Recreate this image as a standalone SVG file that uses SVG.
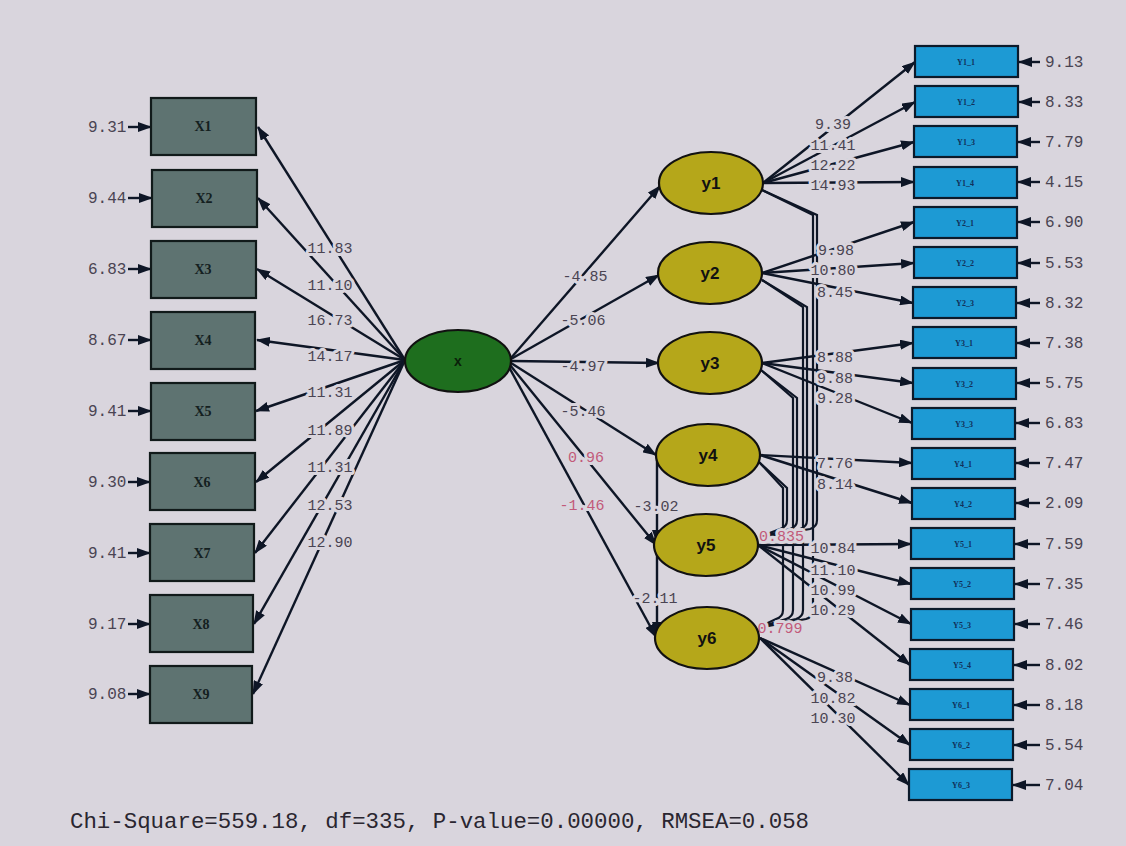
<svg xmlns="http://www.w3.org/2000/svg" width="1126" height="846" viewBox="0 0 1126 846">
<defs>
<marker id="ah" markerUnits="userSpaceOnUse" markerWidth="14" markerHeight="10" refX="13" refY="5" orient="auto">
<path d="M0,0 L14,5 L0,10 z" fill="#0e1626"/>
</marker>
<style>
.ln{stroke:#0e1626;stroke-width:2.4;fill:none}
.ar{stroke:#0e1626;stroke-width:2.4;fill:none;marker-end:url(#ah)}
.cv{stroke:#0e1626;stroke-width:2.2;fill:none}
.lab{font-family:"Liberation Mono",monospace;font-size:15px;fill:#4a4452;text-anchor:middle;paint-order:stroke;stroke:#d9d5dd;stroke-width:6px;stroke-linejoin:round}
.pk{fill:#c25a7a}
.err{font-family:"Liberation Mono",monospace;font-size:16px;fill:#4a4452}
.xb{fill:#5e7371;stroke:#111a1a;stroke-width:2.2}
.xt{font-family:"Liberation Serif",serif;font-weight:bold;font-size:14px;fill:#14201f;text-anchor:middle}
.yb{fill:#1d9ad4;stroke:#0c1a2a;stroke-width:2.2}
.yt{font-family:"Liberation Serif",serif;font-weight:bold;font-size:8px;fill:#12305a;text-anchor:middle}
.ye{fill:#b5a71a;stroke:#111;stroke-width:2.2}
.yl{font-family:"Liberation Sans",sans-serif;font-weight:bold;font-size:17px;fill:#111;text-anchor:middle}
</style>
</defs>
<rect x="0" y="0" width="1126" height="846" fill="#d9d5dd"/>

<g id="connectors">
<line class="ar" x1="405" y1="360" x2="258" y2="127"/>
<line class="ar" x1="405" y1="360" x2="258" y2="198"/>
<line class="ar" x1="405" y1="360" x2="257" y2="269"/>
<line class="ar" x1="405" y1="360" x2="257" y2="340"/>
<line class="ar" x1="405" y1="360" x2="256" y2="411"/>
<line class="ar" x1="405" y1="360" x2="256" y2="482"/>
<line class="ar" x1="405" y1="360" x2="255" y2="553"/>
<line class="ar" x1="405" y1="360" x2="254" y2="624"/>
<line class="ar" x1="405" y1="360" x2="253" y2="694"/>
<line class="ar" x1="128" y1="127" x2="151" y2="127"/>
<line class="ar" x1="128" y1="198" x2="152" y2="198"/>
<line class="ar" x1="128" y1="269" x2="151" y2="269"/>
<line class="ar" x1="128" y1="340" x2="151" y2="340"/>
<line class="ar" x1="128" y1="411" x2="151" y2="411"/>
<line class="ar" x1="128" y1="482" x2="150" y2="482"/>
<line class="ar" x1="128" y1="553" x2="150" y2="553"/>
<line class="ar" x1="128" y1="624" x2="150" y2="624"/>
<line class="ar" x1="128" y1="694" x2="150" y2="694"/>
<line class="ar" x1="511" y1="358" x2="660" y2="186"/>
<line class="ar" x1="511" y1="359" x2="659" y2="275"/>
<line class="ar" x1="512" y1="361" x2="659" y2="363"/>
<line class="ar" x1="511" y1="363" x2="656" y2="455"/>
<line class="ar" x1="510" y1="365" x2="656" y2="545"/>
<line class="ar" x1="509" y1="367" x2="656" y2="637"/>
<line class="ar" x1="657" y1="458" x2="657" y2="543"/>
<line class="ar" x1="657" y1="549" x2="657" y2="635"/>
<path class="cv" d="M762,190 L817,215 L817,520 Q817,527 810,529 L757,538"/>
<path class="cv" d="M762,190 L813,215 L813,610 Q813,617 806,619 L757,628"/>
<path class="cv" d="M762,280 L807,307 L807,520 Q807,527 800,529 L757,538"/>
<path class="cv" d="M762,280 L803,307 L803,610 Q803,617 796,619 L757,628"/>
<path class="cv" d="M761,370 L797,398 L797,520 Q797,527 790,529 L757,538"/>
<path class="cv" d="M761,370 L793,398 L793,610 Q793,617 786,619 L757,628"/>
<path class="cv" d="M759,462 L787,488 L787,520 Q787,527 780,529 L757,538"/>
<path class="cv" d="M759,462 L783,488 L783,610 Q783,617 776,619 L757,628"/>
<line class="ar" x1="763" y1="183" x2="915" y2="62"/>
<line class="ar" x1="763" y1="183" x2="915" y2="102"/>
<line class="ar" x1="763" y1="183" x2="914" y2="142"/>
<line class="ar" x1="763" y1="183" x2="914" y2="182"/>
<line class="ar" x1="762" y1="273" x2="914" y2="222"/>
<line class="ar" x1="762" y1="273" x2="914" y2="263"/>
<line class="ar" x1="762" y1="273" x2="913" y2="303"/>
<line class="ar" x1="762" y1="363" x2="913" y2="343"/>
<line class="ar" x1="762" y1="363" x2="913" y2="383"/>
<line class="ar" x1="762" y1="363" x2="912" y2="423"/>
<line class="ar" x1="760" y1="455" x2="912" y2="463"/>
<line class="ar" x1="760" y1="455" x2="912" y2="503"/>
<line class="ar" x1="758" y1="545" x2="911" y2="544"/>
<line class="ar" x1="758" y1="545" x2="911" y2="584"/>
<line class="ar" x1="758" y1="545" x2="911" y2="624"/>
<line class="ar" x1="758" y1="545" x2="910" y2="665"/>
<line class="ar" x1="760" y1="638" x2="910" y2="705"/>
<line class="ar" x1="760" y1="638" x2="910" y2="745"/>
<line class="ar" x1="760" y1="638" x2="909" y2="785"/>
<line class="ar" x1="1040" y1="62" x2="1019" y2="62"/>
<line class="ar" x1="1040" y1="102" x2="1019" y2="102"/>
<line class="ar" x1="1040" y1="142" x2="1018" y2="142"/>
<line class="ar" x1="1040" y1="182" x2="1018" y2="182"/>
<line class="ar" x1="1040" y1="222" x2="1018" y2="222"/>
<line class="ar" x1="1040" y1="263" x2="1018" y2="263"/>
<line class="ar" x1="1040" y1="303" x2="1017" y2="303"/>
<line class="ar" x1="1040" y1="343" x2="1017" y2="343"/>
<line class="ar" x1="1040" y1="383" x2="1017" y2="383"/>
<line class="ar" x1="1040" y1="423" x2="1016" y2="423"/>
<line class="ar" x1="1040" y1="463" x2="1016" y2="463"/>
<line class="ar" x1="1040" y1="503" x2="1016" y2="503"/>
<line class="ar" x1="1040" y1="544" x2="1015" y2="544"/>
<line class="ar" x1="1040" y1="584" x2="1015" y2="584"/>
<line class="ar" x1="1040" y1="624" x2="1015" y2="624"/>
<line class="ar" x1="1040" y1="665" x2="1014" y2="665"/>
<line class="ar" x1="1040" y1="705" x2="1014" y2="705"/>
<line class="ar" x1="1040" y1="745" x2="1014" y2="745"/>
<line class="ar" x1="1040" y1="785" x2="1013" y2="785"/>
</g>

<g id="labels">
<text class="lab" x="330" y="253">11.83</text>
<text class="lab" x="330" y="290">11.10</text>
<text class="lab" x="330" y="325">16.73</text>
<text class="lab" x="330" y="361">14.17</text>
<text class="lab" x="330" y="397">11.31</text>
<text class="lab" x="330" y="435">11.89</text>
<text class="lab" x="330" y="472">11.31</text>
<text class="lab" x="330" y="510">12.53</text>
<text class="lab" x="330" y="547">12.90</text>
<text class="lab" x="585" y="281">-4.85</text>
<text class="lab" x="583" y="325">-5.06</text>
<text class="lab" x="583" y="371">-4.97</text>
<text class="lab" x="583" y="416">-5.46</text>
<text class="lab pk" x="586" y="462">0.96</text>
<text class="lab pk" x="582" y="510">-1.46</text>
<text class="lab" x="656" y="511">-3.02</text>
<text class="lab" x="655" y="603">-2.11</text>
<text class="lab pk" x="777" y="541">-0.835</text>
<text class="lab pk" x="780" y="633">0.799</text>
<text class="lab" x="833" y="129">9.39</text>
<text class="lab" x="833" y="150">11.41</text>
<text class="lab" x="833" y="170">12.22</text>
<text class="lab" x="833" y="190">14.93</text>
<text class="lab" x="836" y="255">9.98</text>
<text class="lab" x="833" y="275">10.80</text>
<text class="lab" x="835" y="297">8.45</text>
<text class="lab" x="835" y="362">8.88</text>
<text class="lab" x="835" y="383">9.88</text>
<text class="lab" x="835" y="403">9.28</text>
<text class="lab" x="835" y="468">7.76</text>
<text class="lab" x="835" y="489">8.14</text>
<text class="lab" x="833" y="553">10.84</text>
<text class="lab" x="833" y="575">11.10</text>
<text class="lab" x="833" y="595">10.99</text>
<text class="lab" x="833" y="615">10.29</text>
<text class="lab" x="835" y="682">9.38</text>
<text class="lab" x="833" y="703">10.82</text>
<text class="lab" x="833" y="723">10.30</text>
</g>

<g id="errors">
<text class="err" x="88" y="132">9.31</text>
<text class="err" x="88" y="203">9.44</text>
<text class="err" x="88" y="274">6.83</text>
<text class="err" x="88" y="345">8.67</text>
<text class="err" x="88" y="416">9.41</text>
<text class="err" x="88" y="487">9.30</text>
<text class="err" x="88" y="558">9.41</text>
<text class="err" x="88" y="629">9.17</text>
<text class="err" x="88" y="699">9.08</text>
<text class="err" x="1045" y="67">9.13</text>
<text class="err" x="1045" y="107">8.33</text>
<text class="err" x="1045" y="147">7.79</text>
<text class="err" x="1045" y="187">4.15</text>
<text class="err" x="1045" y="227">6.90</text>
<text class="err" x="1045" y="268">5.53</text>
<text class="err" x="1045" y="308">8.32</text>
<text class="err" x="1045" y="348">7.38</text>
<text class="err" x="1045" y="388">5.75</text>
<text class="err" x="1045" y="428">6.83</text>
<text class="err" x="1045" y="468">7.47</text>
<text class="err" x="1045" y="508">2.09</text>
<text class="err" x="1045" y="549">7.59</text>
<text class="err" x="1045" y="589">7.35</text>
<text class="err" x="1045" y="629">7.46</text>
<text class="err" x="1045" y="670">8.02</text>
<text class="err" x="1045" y="710">8.18</text>
<text class="err" x="1045" y="750">5.54</text>
<text class="err" x="1045" y="790">7.04</text>
</g>

<g id="X1"><rect class="xb" x="151" y="98" width="105" height="57"/><text class="xt" x="203" y="131">X1</text></g>
<g id="X2"><rect class="xb" x="152" y="170" width="105" height="57"/><text class="xt" x="204" y="203">X2</text></g>
<g id="X3"><rect class="xb" x="151" y="241" width="105" height="57"/><text class="xt" x="203" y="274">X3</text></g>
<g id="X4"><rect class="xb" x="151" y="312" width="104" height="57"/><text class="xt" x="203" y="345">X4</text></g>
<g id="X5"><rect class="xb" x="151" y="383" width="104" height="57"/><text class="xt" x="203" y="416">X5</text></g>
<g id="X6"><rect class="xb" x="150" y="453" width="105" height="57"/><text class="xt" x="202" y="487">X6</text></g>
<g id="X7"><rect class="xb" x="150" y="524" width="104" height="57"/><text class="xt" x="202" y="558">X7</text></g>
<g id="X8"><rect class="xb" x="150" y="595" width="103" height="57"/><text class="xt" x="201" y="629">X8</text></g>
<g id="X9"><rect class="xb" x="150" y="666" width="102" height="57"/><text class="xt" x="201" y="699">X9</text></g>

<g id="x"><ellipse cx="458" cy="361" rx="53" ry="31" fill="#1e6e1e" stroke="#111" stroke-width="2.2"/><text x="458" y="366" font-family="Liberation Sans, sans-serif" font-weight="bold" font-size="14" fill="#0a200a" text-anchor="middle">x</text></g>

<g id="y1"><ellipse class="ye" cx="711" cy="183" rx="52" ry="31"/><text class="yl" x="711" y="189">y1</text></g>
<g id="y2"><ellipse class="ye" cx="710" cy="273" rx="52" ry="31"/><text class="yl" x="710" y="279">y2</text></g>
<g id="y3"><ellipse class="ye" cx="710" cy="363" rx="52" ry="31"/><text class="yl" x="710" y="369">y3</text></g>
<g id="y4"><ellipse class="ye" cx="708" cy="455" rx="52" ry="31"/><text class="yl" x="708" y="461">y4</text></g>
<g id="y5"><ellipse class="ye" cx="706" cy="545" rx="52" ry="31"/><text class="yl" x="706" y="551">y5</text></g>
<g id="y6"><ellipse class="ye" cx="707" cy="638" rx="52" ry="31"/><text class="yl" x="707" y="644">y6</text></g>

<g id="Y1_1"><rect class="yb" x="915" y="46" width="103" height="31"/><text class="yt" x="966" y="65">Y1_1</text></g>
<g id="Y1_2"><rect class="yb" x="915" y="86" width="103" height="31"/><text class="yt" x="966" y="105">Y1_2</text></g>
<g id="Y1_3"><rect class="yb" x="914" y="126" width="103" height="31"/><text class="yt" x="966" y="145">Y1_3</text></g>
<g id="Y1_4"><rect class="yb" x="914" y="167" width="103" height="31"/><text class="yt" x="965" y="186">Y1_4</text></g>
<g id="Y2_1"><rect class="yb" x="914" y="207" width="103" height="31"/><text class="yt" x="965" y="226">Y2_1</text></g>
<g id="Y2_2"><rect class="yb" x="914" y="247" width="103" height="31"/><text class="yt" x="965" y="266">Y2_2</text></g>
<g id="Y2_3"><rect class="yb" x="913" y="287" width="103" height="31"/><text class="yt" x="965" y="306">Y2_3</text></g>
<g id="Y3_1"><rect class="yb" x="913" y="327" width="103" height="31"/><text class="yt" x="964" y="346">Y3_1</text></g>
<g id="Y3_2"><rect class="yb" x="913" y="368" width="103" height="31"/><text class="yt" x="964" y="387">Y3_2</text></g>
<g id="Y3_3"><rect class="yb" x="912" y="408" width="103" height="31"/><text class="yt" x="964" y="427">Y3_3</text></g>
<g id="Y4_1"><rect class="yb" x="912" y="448" width="103" height="31"/><text class="yt" x="963" y="467">Y4_1</text></g>
<g id="Y4_2"><rect class="yb" x="912" y="488" width="103" height="31"/><text class="yt" x="963" y="507">Y4_2</text></g>
<g id="Y5_1"><rect class="yb" x="911" y="528" width="103" height="31"/><text class="yt" x="963" y="547">Y5_1</text></g>
<g id="Y5_2"><rect class="yb" x="911" y="568" width="103" height="31"/><text class="yt" x="962" y="587">Y5_2</text></g>
<g id="Y5_3"><rect class="yb" x="911" y="609" width="103" height="31"/><text class="yt" x="962" y="628">Y5_3</text></g>
<g id="Y5_4"><rect class="yb" x="910" y="649" width="103" height="31"/><text class="yt" x="962" y="668">Y5_4</text></g>
<g id="Y6_1"><rect class="yb" x="910" y="689" width="103" height="31"/><text class="yt" x="961" y="708">Y6_1</text></g>
<g id="Y6_2"><rect class="yb" x="910" y="729" width="103" height="31"/><text class="yt" x="961" y="748">Y6_2</text></g>
<g id="Y6_3"><rect class="yb" x="909" y="769" width="103" height="31"/><text class="yt" x="961" y="788">Y6_3</text></g>

<text x="70" y="828" font-family="Liberation Mono, monospace" font-size="22.4" fill="#2a2630">Chi-Square=559.18, df=335, P-value=0.00000, RMSEA=0.058</text>
</svg>
